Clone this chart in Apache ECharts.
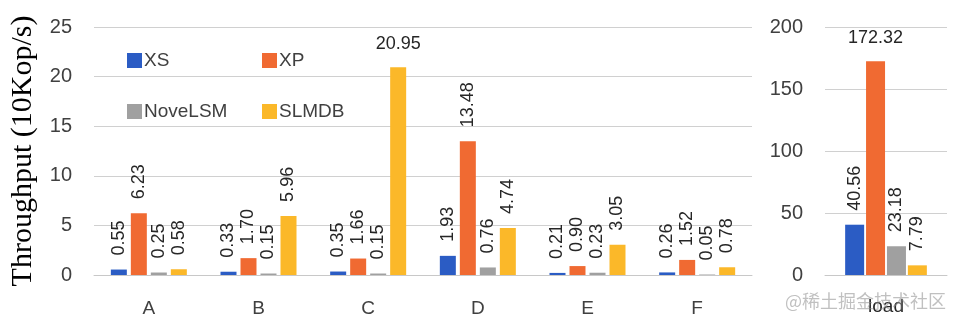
<!DOCTYPE html>
<html>
<head>
<meta charset="utf-8">
<script src="https://cdn.jsdelivr.net/npm/echarts@6/dist/echarts.min.js"></script>
<style>html,body{margin:0;padding:0;background:#fff;}#c{width:960px;height:328px;}</style>
</head>
<body>
<div id="c"></div>
<script>
const categories = ['A', 'B', 'C', 'D', 'E', 'F'];
const loadCategory = ['load'];
const seriesNames = ['XS', 'XP', 'NoveLSM', 'SLMDB'];
const xsValues = [0.55, 0.33, 0.35, 1.93, 0.21, 0.26];
const xpValues = [6.23, 1.70, 1.66, 13.48, 0.90, 1.52];
const noveValues = [0.25, 0.15, 0.15, 0.76, 0.23, 0.05];
const slmdbValues = [0.58, 5.96, 20.95, 4.74, 3.05, 0.78];
const loadValues = [40.56, 172.32, 23.18, 7.79];
const leftTicks = { min: 0, max: 25, interval: 5 };
const rightTicks = { min: 0, max: 200, interval: 50 };
const colors = ['#2b5cc4', '#f06a32', '#a0a0a0', '#fbb829'];

const leftData = [xsValues, xpValues, noveValues, slmdbValues];
const leftMax = Math.max.apply(null, leftData.flat());
const rightMax = Math.max.apply(null, loadValues);

const fmt = p => Number(p.value).toFixed(2);
const rotLabel = {
  show: true, position: 'top', rotate: 90, align: 'left', verticalAlign: 'middle',
  distance: 14, fontSize: 18, color: '#262626', fontFamily: 'Liberation Sans', formatter: fmt
};
const flatLabel = { rotate: 0, align: 'center', verticalAlign: 'bottom', distance: 14 };

function mk(vals, max) {
  return vals.map(v => v === max ? { value: v, label: flatLabel } : v);
}

const series = [];
leftData.forEach((vals, i) => {
  series.push({
    name: seriesNames[i], type: 'bar', xAxisIndex: 0, yAxisIndex: 0,
    data: mk(vals, leftMax), barWidth: 16, barGap: '25%',
    itemStyle: { color: colors[i] }, label: rotLabel
  });
});
loadValues.forEach((v, i) => {
  const d = [];
  d.push(v === rightMax ? { value: v, label: flatLabel } : v);
  series.push({
    name: seriesNames[i], type: 'bar', xAxisIndex: 1, yAxisIndex: 1,
    data: d, barWidth: 19, barGap: '10%',
    itemStyle: { color: colors[i] }, label: rotLabel
  });
});

const axisLabelStyle = { fontSize: 20, color: '#404040', fontFamily: 'Liberation Sans' };
const chart = echarts.init(document.getElementById('c'), null, { renderer: 'canvas' });
chart.setOption({
  animation: false,
  backgroundColor: '#ffffff',
  grid: [
    { left: 94, right: 208, top: 27, bottom: 53, outerBoundsMode: 'none', containLabel: false },
    { left: 825, right: 13, top: 27, bottom: 53, outerBoundsMode: 'none', containLabel: false }
  ],
  legend: [
    { data: [seriesNames[0], seriesNames[2]], orient: 'vertical', left: 122, top: 46,
      itemWidth: 15, itemHeight: 15, itemGap: 32, icon: 'rect',
      textStyle: { fontSize: 19, color: '#404040', fontFamily: 'Liberation Sans', padding: [0, 0, 0, -3] } },
    { data: [seriesNames[1], seriesNames[3]], orient: 'vertical', left: 257, top: 46,
      itemWidth: 15, itemHeight: 15, itemGap: 32, icon: 'rect',
      textStyle: { fontSize: 19, color: '#404040', fontFamily: 'Liberation Sans', padding: [0, 0, 0, -3] } }
  ],
  xAxis: [
    { type: 'category', gridIndex: 0, data: categories,
      axisLine: { lineStyle: { color: '#c8c8c8' } }, axisTick: { show: false },
      axisLabel: Object.assign({ margin: 24 }, axisLabelStyle, { fontSize: 19 }) },
    { type: 'category', gridIndex: 1, data: loadCategory,
      axisLine: { lineStyle: { color: '#c8c8c8' } }, axisTick: { show: false },
      axisLabel: Object.assign({ margin: 22 }, axisLabelStyle, { fontSize: 19, color: '#262626' }) }
  ],
  yAxis: [
    { type: 'value', gridIndex: 0, min: leftTicks.min, max: leftTicks.max, interval: leftTicks.interval,
      axisLine: { show: false }, axisTick: { show: false },
      splitLine: { lineStyle: { color: '#d0d0d0' } },
      axisLabel: Object.assign({ margin: 22 }, axisLabelStyle),
      name: 'Throughput (10Kop/s)', nameLocation: 'middle', nameGap: 56,
      nameTextStyle: { fontSize: 30, color: '#000', fontFamily: 'Liberation Serif' } },
    { type: 'value', gridIndex: 1, min: rightTicks.min, max: rightTicks.max, interval: rightTicks.interval,
      axisLine: { show: false }, axisTick: { show: false },
      splitLine: { lineStyle: { color: '#d0d0d0' } },
      axisLabel: Object.assign({ margin: 22 }, axisLabelStyle) }
  ],
  series: series,
  graphic: [
    { type: 'text', left: 785, top: 292, z: 100,
      style: { text: '@稀土掘金技术社区', fontSize: 18, fontFamily: 'Noto Sans CJK SC',
        fill: 'rgba(140,140,140,0.55)' } }
  ]
});
</script>
</body>
</html>
